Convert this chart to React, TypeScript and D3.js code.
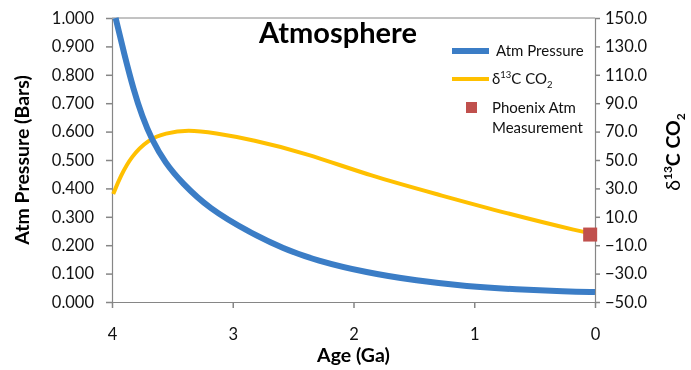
import React, { useEffect, useRef } from 'react';
import * as d3 from 'd3';

// Atm pressure (bars) vs age (Ga)
const pressureAges = [3.97, 3.9, 3.82, 3.75, 3.67, 3.56, 3.42, 3.2, 2.86, 2.58, 2.31, 1.89, 1.48, 1.06, 0.65, 0.24, 0.0];
const pressureValues = [1.0, 0.875, 0.745, 0.653, 0.571, 0.49, 0.419, 0.33, 0.245, 0.188, 0.146, 0.103, 0.075, 0.055, 0.044, 0.037, 0.035];

// d13C CO2 vs age (Ga)
const deltaAges = [3.99, 3.93, 3.84, 3.7, 3.56, 3.37, 3.15, 2.84, 2.4, 1.85, 1.3, 0.75, 0.08, 0.0];
const deltaValues = [26.0, 38.5, 52.6, 64.3, 69.0, 71.3, 69.0, 64.3, 55.0, 38.5, 25.7, 12.8, -1.2, -2.0];

// Phoenix measurement
const phoenixAge = [0.04];
const phoenixValue = [-2.5];

const xTicks = [4, 3, 2, 1, 0];
const leftTicks = d3.range(0, 1.0001, 0.1);
const rightTicks = d3.range(-50, 150.001, 20);

const FONT = 'Lato, "Open Sans", sans-serif';
const BLUE = '#3B7DC6';
const GOLD = '#FFC000';
const RED = '#C0504D';
const AXIS = '#868686';

const Chart: React.FC = () => {
  const ref = useRef<SVGSVGElement>(null);

  useEffect(() => {
    const width = 691;
    const height = 370;
    const margin = { top: 18, right: 96, bottom: 68, left: 112 };
    const innerW = width - margin.left - margin.right;
    const innerH = height - margin.top - margin.bottom;

    const root = d3.select(ref.current).attr('width', width).attr('height', height);
    root.selectAll('*').remove();
    const svg = root.append('g').attr('transform', `translate(${margin.left},${margin.top})`);

    const x = d3.scaleLinear().domain([4, 0]).range([0, innerW]);
    const yL = d3.scaleLinear().domain([0, 1]).range([innerH, 0]);
    const yR = d3.scaleLinear().domain([-50, 150]).range([innerH, 0]);

    // top border
    svg.append('line').attr('x1', 0).attr('x2', innerW).attr('y1', 0).attr('y2', 0).attr('stroke', AXIS);

    // axes
    const styleAxis = (g: d3.Selection<SVGGElement, unknown, null, undefined>) => {
      g.selectAll('path').attr('stroke', AXIS).attr('stroke-width', 1.2);
      g.selectAll('line').attr('stroke', AXIS).attr('stroke-width', 1.5);
      g.selectAll('text').attr('fill', '#111').attr('font-family', FONT).attr('font-size', 16.5);
    };

    svg
      .append('g')
      .call(d3.axisLeft(yL).tickValues(leftTicks).tickFormat(d3.format('.3f')).tickSize(6).tickSizeOuter(0).tickPadding(12))
      .call(styleAxis);

    svg
      .append('g')
      .attr('transform', `translate(${innerW},0)`)
      .call(d3.axisRight(yR).tickValues(rightTicks).tickFormat(d3.format('.1f')).tickSize(5).tickSizeOuter(0).tickPadding(5))
      .call(styleAxis);

    svg
      .append('g')
      .attr('transform', `translate(0,${innerH})`)
      .call(d3.axisBottom(x).tickValues(xTicks).tickFormat(d3.format('d')).tickSize(6).tickSizeOuter(0).tickPadding(20))
      .call(styleAxis);

    // series
    const pressureLine = d3
      .line<number>()
      .x((_d, i) => x(pressureAges[i]))
      .y((d) => yL(d))
      .curve(d3.curveBasis);
    const deltaLine = d3
      .line<number>()
      .x((_d, i) => x(deltaAges[i]))
      .y((d) => yR(d))
      .curve(d3.curveBasis);

    svg
      .append('path')
      .attr('d', deltaLine(deltaValues))
      .attr('fill', 'none')
      .attr('stroke', GOLD)
      .attr('stroke-width', 4);

    svg
      .append('path')
      .attr('d', pressureLine(pressureValues))
      .attr('fill', 'none')
      .attr('stroke', BLUE)
      .attr('stroke-width', 6);

    svg
      .selectAll('rect.phoenix')
      .data(phoenixValue)
      .enter()
      .append('rect')
      .attr('class', 'phoenix')
      .attr('x', (_d, i) => x(phoenixAge[i]) - 7)
      .attr('y', (d) => yR(d) - 7)
      .attr('width', 14)
      .attr('height', 14)
      .attr('fill', RED);

    // title
    root
      .append('text')
      .attr('x', 259)
      .attr('y', 43)
      .attr('font-family', FONT)
      .attr('font-weight', 'bold')
      .attr('font-size', 29)
      .text('Atmosphere');

    // legend
    const lg = root.append('g').attr('font-family', FONT).attr('font-size', 15).attr('fill', '#111');
    lg.append('line').attr('x1', 452).attr('x2', 489).attr('y1', 51).attr('y2', 51).attr('stroke', BLUE).attr('stroke-width', 6);
    lg.append('text').attr('x', 496).attr('y', 56).text('Atm Pressure');
    lg.append('line').attr('x1', 452).attr('x2', 489).attr('y1', 79).attr('y2', 79).attr('stroke', GOLD).attr('stroke-width', 4);
    const t2 = lg.append('text').attr('x', 492).attr('y', 84);
    t2.append('tspan').text('δ');
    t2.append('tspan').attr('font-size', 9.5).attr('dy', -6).text('13');
    t2.append('tspan').attr('dy', 6).text('C CO');
    t2.append('tspan').attr('font-size', 9.5).attr('dy', 4).text('2');
    lg.append('rect').attr('x', 466).attr('y', 102).attr('width', 11).attr('height', 11).attr('fill', RED);
    lg.append('text').attr('x', 492).attr('y', 113).text('Phoenix Atm');
    lg.append('text').attr('x', 492).attr('y', 133).text('Measurement');

    // axis titles
    root
      .append('text')
      .attr('transform', `translate(29,${margin.top + innerH / 2}) rotate(-90)`)
      .attr('text-anchor', 'middle')
      .attr('font-family', FONT)
      .attr('font-weight', 'bold')
      .attr('font-size', 19.5)
      .text('Atm Pressure (Bars)');

    root
      .append('text')
      .attr('x', margin.left + innerW / 2)
      .attr('y', 362)
      .attr('text-anchor', 'middle')
      .attr('font-family', FONT)
      .attr('font-weight', 'bold')
      .attr('font-size', 19.5)
      .text('Age (Ga)');

    const rt = root
      .append('text')
      .attr('transform', `translate(680,152) rotate(-90)`)
      .attr('text-anchor', 'middle')
      .attr('font-family', FONT)
      .attr('font-weight', 'bold')
      .attr('font-size', 19.5);
    rt.append('tspan').attr('font-weight', 'normal').text('δ');
    rt.append('tspan').attr('font-size', 12).attr('dy', -8).text('13');
    rt.append('tspan').attr('dy', 8).text('C CO');
    rt.append('tspan').attr('font-size', 12).attr('dy', 5).text('2');
  }, []);

  return <svg ref={ref} style={{ display: 'block' }} />;
};

export default function App() {
  return (
    <div style={{ position: 'fixed', left: 0, top: 0 }}>
      <Chart />
    </div>
  );
}
